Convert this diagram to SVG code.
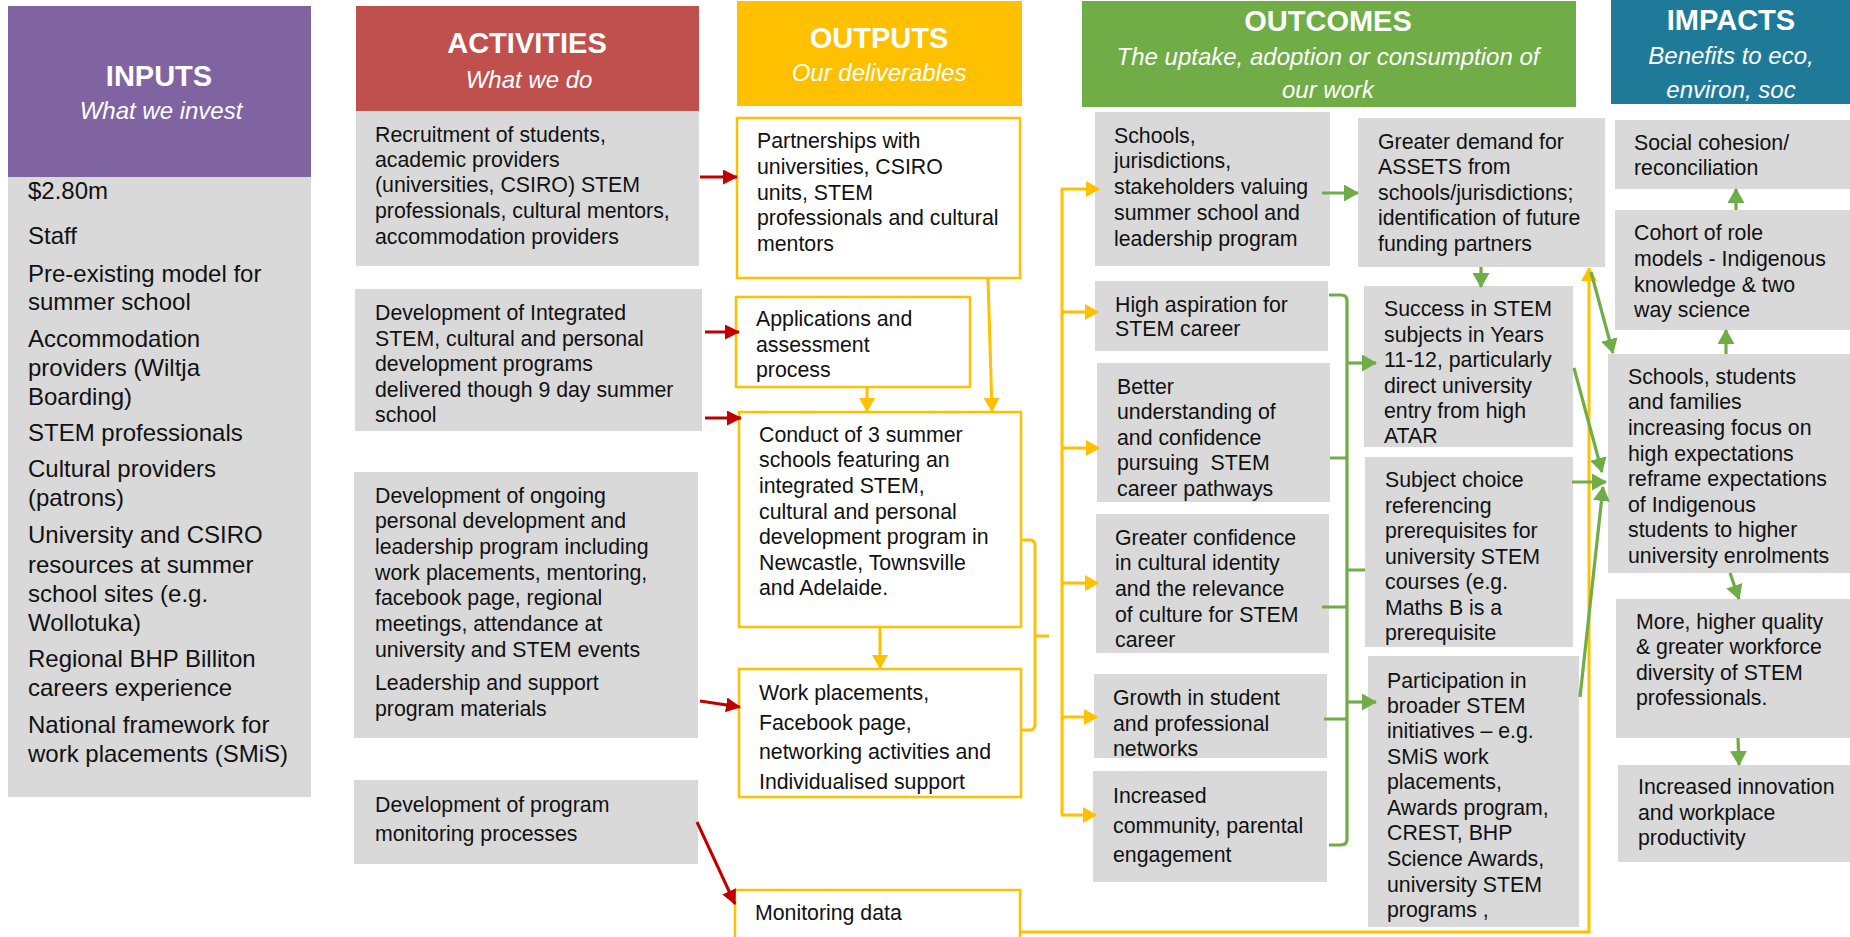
<svg xmlns="http://www.w3.org/2000/svg" width="1850" height="937" viewBox="0 0 1850 937">
<style>
text{font-family:"Liberation Sans",Arial,sans-serif;fill:#111}
.b{fill:#D9D9D9}
.o{fill:#fff;stroke:#FFC000;stroke-width:2.5}
.t{font-size:21.3px}
.ti{font-size:24px}
.h{font-weight:bold;font-size:29px;fill:#fff;text-anchor:middle}
.s{font-style:italic;font-size:24px;fill:#fff;text-anchor:middle}
.cy{stroke:#FFC000;stroke-width:3;fill:none}
.cr{stroke:#C00000;stroke-width:3;fill:none}
.cg{stroke:#70AD47;stroke-width:3.2;fill:none}
</style>
<defs>
<marker id="ay" markerUnits="userSpaceOnUse" markerWidth="14" markerHeight="16" refX="13" refY="8" orient="auto"><path d="M0,0 L14,8 L0,16 z" fill="#FFC000"/></marker>
<marker id="ar" markerUnits="userSpaceOnUse" markerWidth="15" markerHeight="15" refX="14" refY="7.5" orient="auto"><path d="M0,0 L15,7.5 L0,15 z" fill="#C00000"/></marker>
<marker id="ag" markerUnits="userSpaceOnUse" markerWidth="15" markerHeight="17" refX="14" refY="8.5" orient="auto"><path d="M0,0 L15,8.5 L0,17 z" fill="#70AD47"/></marker>
</defs>
<rect width="1850" height="937" fill="#fff"/>

<g id="inputs">
<rect x="8" y="6" width="303" height="171" fill="#8064A2"/>
<rect class="b" x="8" y="177" width="303" height="620"/>
<text class="h" x="159" y="86">INPUTS</text>
<text class="s" x="161" y="119">What we invest</text>
<g class="ti">
<text x="28" y="199">$2.80m</text>
<text x="28" y="244">Staff</text>
<text x="28" y="282">Pre-existing model for</text>
<text x="28" y="310">summer school</text>
<text x="28" y="347">Accommodation</text>
<text x="28" y="376">providers (Wiltja</text>
<text x="28" y="405">Boarding)</text>
<text x="28" y="441">STEM professionals</text>
<text x="28" y="477">Cultural providers</text>
<text x="28" y="506">(patrons)</text>
<text x="28" y="543">University and CSIRO</text>
<text x="28" y="573">resources at summer</text>
<text x="28" y="602">school sites (e.g.</text>
<text x="28" y="631">Wollotuka)</text>
<text x="28" y="667">Regional BHP Billiton</text>
<text x="28" y="696">careers experience</text>
<text x="28" y="733">National framework for</text>
<text x="28" y="762">work placements (SMiS)</text>
</g>
</g>

<g id="activities">
<rect x="356" y="6" width="343" height="105" fill="#C0504D"/>
<text class="h" x="527" y="53">ACTIVITIES</text>
<text class="s" x="529" y="88">What we do</text>
</g>
<g id="act1" class="t">
<rect class="b" x="356" y="111" width="343" height="155"/>
<text x="375" y="142">Recruitment of students,</text>
<text x="375" y="167">academic providers</text>
<text x="375" y="192">(universities, CSIRO) STEM</text>
<text x="375" y="218">professionals, cultural mentors,</text>
<text x="375" y="244">accommodation providers</text>
</g>
<g id="act2" class="t">
<rect class="b" x="355" y="289" width="347" height="142"/>
<text x="375" y="320">Development of Integrated</text>
<text x="375" y="346">STEM, cultural and personal</text>
<text x="375" y="371">development programs</text>
<text x="375" y="397">delivered though 9 day summer</text>
<text x="375" y="422">school</text>
</g>
<g id="act3" class="t">
<rect class="b" x="354" y="472" width="344" height="266"/>
<text x="375" y="503">Development of ongoing</text>
<text x="375" y="528">personal development and</text>
<text x="375" y="554">leadership program including</text>
<text x="375" y="580">work placements, mentoring,</text>
<text x="375" y="605">facebook page, regional</text>
<text x="375" y="631">meetings, attendance at</text>
<text x="375" y="657">university and STEM events</text>
<text x="375" y="690">Leadership and support</text>
<text x="375" y="716">program materials</text>
</g>
<g id="act4" class="t">
<rect class="b" x="354" y="780" width="344" height="84"/>
<text x="375" y="812">Development of program</text>
<text x="375" y="841">monitoring processes</text>
</g>

<g id="outputs">
<rect x="737" y="1" width="285" height="105" fill="#FFC000"/>
<text class="h" x="879" y="48">OUTPUTS</text>
<text class="s" x="879" y="81">Our deliverables</text>
</g>
<g id="out1" class="t">
<rect class="o" x="737" y="118" width="283" height="160"/>
<text x="757" y="148">Partnerships with</text>
<text x="757" y="174">universities, CSIRO</text>
<text x="757" y="200">units, STEM</text>
<text x="757" y="225">professionals and cultural</text>
<text x="757" y="251">mentors</text>
</g>
<g id="out2" class="t">
<rect class="o" x="736" y="297" width="234" height="90"/>
<text x="756" y="326">Applications and</text>
<text x="756" y="352">assessment</text>
<text x="756" y="377">process</text>
</g>
<g id="out3" class="t">
<rect class="o" x="739" y="412" width="282" height="215"/>
<text x="759" y="442">Conduct of 3 summer</text>
<text x="759" y="467">schools featuring an</text>
<text x="759" y="493">integrated STEM,</text>
<text x="759" y="519">cultural and personal</text>
<text x="759" y="544">development program in</text>
<text x="759" y="570">Newcastle, Townsville</text>
<text x="759" y="595">and Adelaide.</text>
</g>
<g id="out4" class="t">
<rect class="o" x="739" y="669" width="282" height="128"/>
<text x="759" y="700">Work placements,</text>
<text x="759" y="730">Facebook page,</text>
<text x="759" y="759">networking activities and</text>
<text x="759" y="789">Individualised support</text>
</g>
<g id="out5" class="t">
<rect class="o" x="735" y="890" width="285" height="60"/>
<text x="755" y="920">Monitoring data</text>
</g>

<g id="outcomes">
<rect x="1082" y="1" width="494" height="106" fill="#70AD47"/>
<text class="h" x="1328" y="31">OUTCOMES</text>
<text class="s" x="1328" y="65">The uptake, adoption or consumption of</text>
<text class="s" x="1328" y="98">our work</text>
</g>
<g id="oc1" class="t">
<rect class="b" x="1095" y="112" width="235" height="154"/>
<text x="1114" y="143">Schools,</text>
<text x="1114" y="168">jurisdictions,</text>
<text x="1114" y="194">stakeholders valuing</text>
<text x="1114" y="220">summer school and</text>
<text x="1114" y="246">leadership program</text>
</g>
<g id="oc2" class="t">
<rect class="b" x="1095" y="281" width="233" height="70"/>
<text x="1115" y="312">High aspiration for</text>
<text x="1115" y="336">STEM career</text>
</g>
<g id="oc3" class="t">
<rect class="b" x="1097" y="363" width="233" height="139"/>
<text x="1117" y="394">Better</text>
<text x="1117" y="419">understanding of</text>
<text x="1117" y="445">and confidence</text>
<text x="1117" y="470" style="white-space:pre">pursuing  STEM</text>
<text x="1117" y="496">career pathways</text>
</g>
<g id="oc4" class="t">
<rect class="b" x="1096" y="514" width="233" height="139"/>
<text x="1115" y="545">Greater confidence</text>
<text x="1115" y="570">in cultural identity</text>
<text x="1115" y="596">and the relevance</text>
<text x="1115" y="622">of culture for STEM</text>
<text x="1115" y="647">career</text>
</g>
<g id="oc5" class="t">
<rect class="b" x="1094" y="674" width="233" height="84"/>
<text x="1113" y="705">Growth in student</text>
<text x="1113" y="731">and professional</text>
<text x="1113" y="756">networks</text>
</g>
<g id="oc6" class="t">
<rect class="b" x="1093" y="771" width="234" height="111"/>
<text x="1113" y="803">Increased</text>
<text x="1113" y="833">community, parental</text>
<text x="1113" y="862">engagement</text>
</g>
<g id="oc7" class="t">
<rect class="b" x="1358" y="118" width="247" height="149"/>
<text x="1378" y="149">Greater demand for</text>
<text x="1378" y="174">ASSETS from</text>
<text x="1378" y="200">schools/jurisdictions;</text>
<text x="1378" y="225">identification of future</text>
<text x="1378" y="251">funding partners</text>
</g>
<g id="oc8" class="t">
<rect class="b" x="1364" y="286" width="209" height="161"/>
<text x="1384" y="316">Success in STEM</text>
<text x="1384" y="342">subjects in Years</text>
<text x="1384" y="367">11-12, particularly</text>
<text x="1384" y="393">direct university</text>
<text x="1384" y="418">entry from high</text>
<text x="1384" y="443">ATAR</text>
</g>
<g id="oc9" class="t">
<rect class="b" x="1365" y="457" width="208" height="190"/>
<text x="1385" y="487">Subject choice</text>
<text x="1385" y="513">referencing</text>
<text x="1385" y="538">prerequisites for</text>
<text x="1385" y="564">university STEM</text>
<text x="1385" y="589">courses (e.g.</text>
<text x="1385" y="615">Maths B is a</text>
<text x="1385" y="640">prerequisite</text>
</g>
<g id="oc10" class="t">
<rect class="b" x="1368" y="656" width="211" height="271"/>
<text x="1387" y="688">Participation in</text>
<text x="1387" y="713">broader STEM</text>
<text x="1387" y="738">initiatives – e.g.</text>
<text x="1387" y="764">SMiS work</text>
<text x="1387" y="789">placements,</text>
<text x="1387" y="815">Awards program,</text>
<text x="1387" y="840">CREST, BHP</text>
<text x="1387" y="866">Science Awards,</text>
<text x="1387" y="892">university STEM</text>
<text x="1387" y="917">programs ,</text>
</g>

<g id="impacts">
<rect x="1611" y="0" width="239" height="104" fill="#1F7A99"/>
<text class="h" x="1731" y="30">IMPACTS</text>
<text class="s" x="1731" y="64">Benefits to eco,</text>
<text class="s" x="1731" y="98">environ, soc</text>
</g>
<g id="im1" class="t">
<rect class="b" x="1615" y="120" width="235" height="69"/>
<text x="1634" y="150">Social cohesion/</text>
<text x="1634" y="175">reconciliation</text>
</g>
<g id="im2" class="t">
<rect class="b" x="1615" y="210" width="235" height="120"/>
<text x="1634" y="240">Cohort of role</text>
<text x="1634" y="266">models - Indigenous</text>
<text x="1634" y="292">knowledge &amp; two</text>
<text x="1634" y="317">way science</text>
</g>
<g id="im3" class="t">
<rect class="b" x="1608" y="354" width="242" height="219"/>
<text x="1628" y="384">Schools, students</text>
<text x="1628" y="409">and families</text>
<text x="1628" y="435">increasing focus on</text>
<text x="1628" y="461">high expectations</text>
<text x="1628" y="486">reframe expectations</text>
<text x="1628" y="512">of Indigenous</text>
<text x="1628" y="537">students to higher</text>
<text x="1628" y="563">university enrolments</text>
</g>
<g id="im4" class="t">
<rect class="b" x="1616" y="599" width="234" height="139"/>
<text x="1636" y="629">More, higher quality</text>
<text x="1636" y="654">&amp; greater workforce</text>
<text x="1636" y="680">diversity of STEM</text>
<text x="1636" y="705">professionals.</text>
</g>
<g id="im5" class="t">
<rect class="b" x="1618" y="765" width="232" height="97"/>
<text x="1638" y="794">Increased innovation</text>
<text x="1638" y="820">and workplace</text>
<text x="1638" y="845">productivity</text>
</g>

<g id="connectors">
<path class="cr" marker-end="url(#ar)" d="M700,177 H737"/>
<path class="cr" marker-end="url(#ar)" d="M705,332 H739"/>
<path class="cr" marker-end="url(#ar)" d="M705,418 H741"/>
<path class="cr" marker-end="url(#ar)" d="M700,701 L740,707"/>
<path class="cr" marker-end="url(#ar)" d="M697,822 L735,904"/>

<path class="cy" marker-end="url(#ay)" d="M988,279 L992,411"/>
<path class="cy" marker-end="url(#ay)" d="M867,388 V411"/>
<path class="cy" marker-end="url(#ay)" d="M880,628 V668"/>
<path class="cy" d="M1021,540 H1030 Q1035,540 1035,546 V724 Q1035,730 1030,730 H1021 M1035,636 H1049"/>
<path class="cy" d="M1062,189 V815"/>
<path class="cy" marker-end="url(#ay)" d="M1061,189 H1099"/>
<path class="cy" marker-end="url(#ay)" d="M1062,312 H1098"/>
<path class="cy" marker-end="url(#ay)" d="M1062,448 H1099"/>
<path class="cy" marker-end="url(#ay)" d="M1062,583 H1098"/>
<path class="cy" marker-end="url(#ay)" d="M1062,717 H1097"/>
<path class="cy" marker-end="url(#ay)" d="M1061,815 H1096"/>
<path class="cy" marker-end="url(#ay)" d="M1021,932 H1589 V268"/>

<path class="cg" marker-end="url(#ag)" d="M1322,193 H1358"/>
<path class="cg" marker-end="url(#ag)" d="M1481,267 V287"/>
<path class="cg" d="M1329,295 H1341 Q1347,295 1347,301 V839 Q1347,845 1341,845 H1329 M1330,458 H1347 M1322,607 H1347 M1324,719 H1347 M1347,570 H1365"/>
<path class="cg" marker-end="url(#ag)" d="M1347,363 H1376"/>
<path class="cg" marker-end="url(#ag)" d="M1347,702 H1376"/>
<path class="cg" marker-end="url(#ag)" d="M1591,272 L1613,353"/>
<path class="cg" marker-end="url(#ag)" d="M1574,368 L1602,472"/>
<path class="cg" marker-end="url(#ag)" d="M1572,482 H1606"/>
<path class="cg" marker-end="url(#ag)" d="M1580,697 L1603,487"/>
<path class="cg" marker-end="url(#ag)" d="M1736,210 V189"/>
<path class="cg" marker-end="url(#ag)" d="M1726,354 V330"/>
<path class="cg" marker-end="url(#ag)" d="M1730,573 L1739,599"/>
<path class="cg" marker-end="url(#ag)" d="M1738,738 L1739,765"/>
</g>
</svg>
